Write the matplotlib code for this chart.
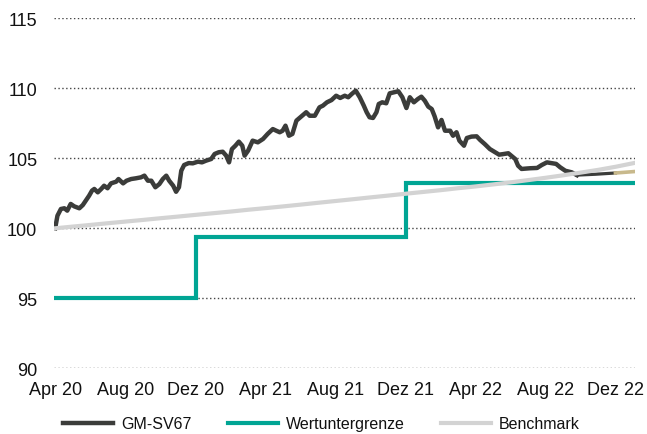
import matplotlib
matplotlib.use("Agg")
import matplotlib.pyplot as plt
import matplotlib.dates as mdates
import pandas as pd

plt.rcParams['font.family'] = ['Liberation Sans', 'DejaVu Sans']

start = pd.Timestamp('2020-04-01')

# GM-SV67 (days since 2020-04-01, index value)
gm_days = [0, 4, 10, 16, 21, 27, 33, 42, 48, 53, 59, 64, 68, 74, 80, 85, 91, 97, 106, 110,
           118, 124, 132, 140, 149, 155, 161, 167, 174, 181, 187, 193, 198, 205, 210, 215, 219,
           224, 232, 239, 248, 255, 262, 271, 277, 284, 291, 297, 302, 307, 313, 319, 325, 329,
           335, 343, 352, 361, 369, 378, 384, 390, 395, 400, 406, 412, 419, 427, 436, 442, 451,
           459, 465, 472, 480, 488, 495, 503, 509, 515, 522, 529, 536, 541, 546, 552, 558, 562,
           568, 575, 581, 588, 596, 603, 610, 616, 623, 630, 636, 642, 648, 654, 659, 665, 671,
           677, 686, 691, 697, 702, 710, 715, 723, 732, 738, 746, 755, 764, 771, 778, 787, 793,
           799, 804, 810, 825, 837, 845, 854, 864, 870, 877, 886, 897, 906]
gm_vals = [100.0, 100.9, 101.38, 101.43, 101.26, 101.74, 101.57, 101.43, 101.66, 101.97, 102.33,
           102.69, 102.81, 102.57, 102.81, 103.04, 102.86, 103.21, 103.33, 103.52, 103.21, 103.40,
           103.52, 103.57, 103.64, 103.76, 103.40, 103.40, 102.93, 103.16, 103.52, 103.76, 103.40,
           103.04, 102.61, 102.93, 104.11, 104.52, 104.66, 104.64, 104.76, 104.71, 104.83, 104.95,
           105.31, 105.43, 105.47, 105.19, 104.71, 105.66, 105.90, 106.19, 105.90, 105.19, 105.54,
           106.26, 106.14, 106.38, 106.74, 107.09, 106.97, 106.86, 106.97, 107.33, 106.61, 106.74,
           107.69, 107.97, 108.29, 108.04, 108.04, 108.64, 108.76, 109.0, 109.16, 109.47, 109.31,
           109.47, 109.36, 109.59, 109.83, 109.36, 108.76, 108.29, 107.93, 107.88, 108.29, 108.88,
           109.0, 108.93, 109.64, 109.71, 109.79, 109.36, 108.59, 109.36, 109.0, 109.24, 109.40,
           109.11, 108.69, 108.52, 108.0, 107.21, 107.74, 106.97, 106.97, 106.61, 106.86, 106.26,
           105.9, 106.45, 106.55, 106.57, 106.31, 106.02, 105.66, 105.43, 105.26, 105.30, 105.36,
           105.15, 104.95, 104.47, 104.24, 104.29, 104.31, 104.52, 104.71, 104.64, 104.60, 104.36,
           104.11, 104.0, 103.80]
# thin continuation and tan end piece
cont_days = [906, 938, 973]
cont_vals = [103.80, 103.86, 103.95]
tan_days = [973, 1005]
tan_vals = [103.95, 104.05]

# Wertuntergrenze (step line)
floor_dates = ['2020-04-01', '2020-12-01', '2021-12-01', '2023-01-01']
floor_vals = [95.0, 99.36, 103.21, 103.21]

# Benchmark (monthly, Apr 20 .. Jan 23)
bench_vals = [100.00, 100.12, 100.24, 100.36, 100.48, 100.60, 100.72, 100.84, 100.96, 101.08,
              101.20, 101.32, 101.44, 101.56, 101.69, 101.82, 101.95, 102.08, 102.21, 102.34,
              102.47, 102.60, 102.73, 102.86, 102.99, 103.13, 103.28, 103.44, 103.61, 103.79,
              103.98, 104.18, 104.40, 104.66]

tick_dates = ['2020-04-01', '2020-08-01', '2020-12-01', '2021-04-01', '2021-08-01',
              '2021-12-01', '2022-04-01', '2022-08-01', '2022-12-01']
tick_labels = ['Apr 20', 'Aug 20', 'Dez 20', 'Apr 21', 'Aug 21', 'Dez 21', 'Apr 22', 'Aug 22', 'Dez 22']
y_ticks = [90, 95, 100, 105, 110, 115]

gm_x = start + pd.to_timedelta(gm_days, unit='D')
cont_x = start + pd.to_timedelta(cont_days, unit='D')
tan_x = start + pd.to_timedelta(tan_days, unit='D')
floor_x = pd.to_datetime(floor_dates)
bench_x = pd.date_range('2020-04-01', periods=len(bench_vals), freq='MS')

fig = plt.figure(figsize=(6.47, 4.35), dpi=100)
ax = fig.add_axes([54 / 647, 1 - 369.3 / 435, (635 - 54) / 647, (369.3 - 19.3) / 435])

c_gm = '#3b3c3a'
c_floor = '#00a594'
c_bench = '#d3d3d3'
c_tan = '#c8b98c'

ax.step(floor_x, floor_vals, where='post', color=c_floor, lw=3.0, zorder=2,
        solid_joinstyle='miter', label='Wertuntergrenze')
ax.plot(gm_x, gm_vals, color=c_gm, lw=3.2, zorder=3, solid_joinstyle='round', label='GM-SV67')
ax.plot(cont_x, cont_vals, color=c_gm, lw=2.3, zorder=3)
ax.plot(tan_x, tan_vals, color=c_tan, lw=2.6, zorder=3)
ax.plot(bench_x, bench_vals, color=c_bench, lw=3.0, zorder=4, label='Benchmark')

ax.set_ylim(90, 115)
ax.set_xlim(start - pd.Timedelta(days=2), pd.Timestamp('2023-01-03'))
ax.set_yticks(y_ticks)
ax.set_xticks(pd.to_datetime(tick_dates))
ax.set_xticklabels(tick_labels)
ax.tick_params(axis='both', length=0, labelsize=13, colors='#111111')
ax.tick_params(axis='x', pad=9)
ax.tick_params(axis='y', pad=12)
for s in ax.spines.values():
    s.set_visible(False)
ax.grid(axis='y', color='#444444', lw=1.0, linestyle=(0, (1, 1.8)))
ax.grid(axis='x', visible=False)
ax.set_axisbelow(True)

h, l = ax.get_legend_handles_labels()
order = [l.index('GM-SV67'), l.index('Wertuntergrenze'), l.index('Benchmark')]
fig.legend([h[i] for i in order], [l[i] for i in order], loc='center',
           bbox_to_anchor=(321.5 / 647, 1 - 425 / 435), ncol=3, frameon=False,
           fontsize=11.5, handlelength=3.1, handletextpad=0.5, columnspacing=2.3,
           borderpad=0, labelcolor='#111111')

fig.savefig('out.png', dpi=100)
